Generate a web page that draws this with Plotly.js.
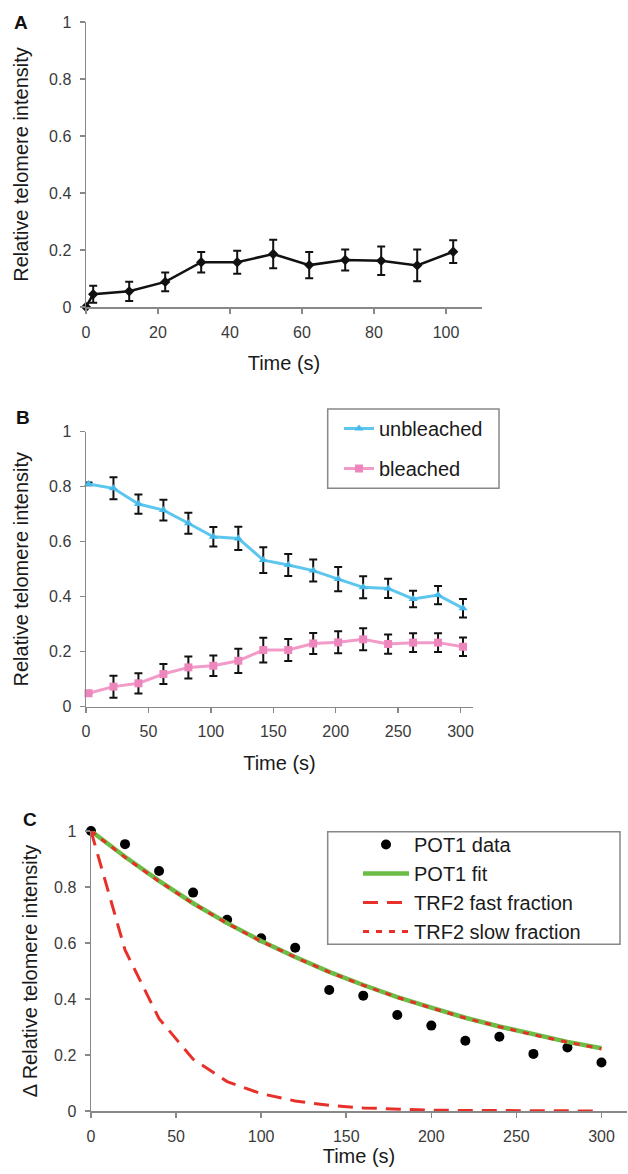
<!DOCTYPE html>
<html><head><meta charset="utf-8">
<script src="https://cdn.plot.ly/plotly-3.0.1.min.js"></script>
<style>body{margin:0;background:#fff}#chart{width:628px;height:1174px}</style>
</head><body><div id="chart"></div>
<script>
// Panel A
const timeA = [0, 2, 12, 22, 32, 42, 52, 62, 72, 82, 92, 102];
const intensityA = [0, 0.045, 0.055, 0.088, 0.157, 0.157, 0.186, 0.147, 0.165, 0.162, 0.146, 0.194];
const errorA = [0, 0.03, 0.034, 0.033, 0.036, 0.04, 0.05, 0.046, 0.037, 0.05, 0.056, 0.04];

// Panel B
const timeB = [2, 22, 42, 62, 82, 102, 122, 142, 162, 182, 202, 222, 242, 262, 282, 302];
const unbleached = [0.81, 0.794, 0.737, 0.715, 0.667, 0.618, 0.612, 0.533, 0.515, 0.495, 0.464, 0.434, 0.43, 0.392, 0.406, 0.358];
const unbleachedErr = [0.005, 0.04, 0.035, 0.038, 0.038, 0.035, 0.042, 0.047, 0.04, 0.04, 0.044, 0.04, 0.035, 0.03, 0.033, 0.034];
const bleached = [0.049, 0.073, 0.085, 0.119, 0.143, 0.149, 0.167, 0.206, 0.206, 0.23, 0.234, 0.245, 0.228, 0.233, 0.233, 0.218];
const bleachedErr = [0, 0.04, 0.037, 0.036, 0.04, 0.037, 0.044, 0.045, 0.04, 0.038, 0.04, 0.04, 0.035, 0.034, 0.034, 0.034];

// Panel C
const timeC = [0, 20, 40, 60, 80, 100, 120, 140, 160, 180, 200, 220, 240, 260, 280, 300];
const pot1Data = [1, 0.953, 0.857, 0.78, 0.683, 0.617, 0.583, 0.432, 0.412, 0.343, 0.305, 0.251, 0.265, 0.204, 0.227, 0.173];
const pot1Fit = [1, 0.908, 0.822, 0.742, 0.671, 0.607, 0.55, 0.497, 0.45, 0.407, 0.369, 0.333, 0.302, 0.273, 0.247, 0.224];
const trf2Fast = [1, 0.575, 0.33, 0.185, 0.105, 0.062, 0.036, 0.02, 0.011, 0.006, 0.003, 0.002, 0.001, 0, 0, 0];
const trf2Slow = [1, 0.906, 0.82, 0.741, 0.67, 0.606, 0.549, 0.496, 0.449, 0.406, 0.368, 0.332, 0.301, 0.272, 0.246, 0.222];

const xTicksA = [0, 20, 40, 60, 80, 100];
const xTicksBC = [0, 50, 100, 150, 200, 250, 300];
const yTicks = [0, 0.2, 0.4, 0.6, 0.8, 1];
const yTickText = ['0', '0.2', '0.4', '0.6', '0.8', '1'];

const FONT = 'Liberation Sans, Arial, Helvetica, sans-serif';
const W = 628, H = 1174;
const px = v => v / W;
const py = v => 1 - v / H;

const errStyle = (arr) => ({type: 'data', array: arr, visible: true, color: '#111', thickness: 2, width: 4});

const traces = [
  {x: timeA, y: intensityA, xaxis: 'x', yaxis: 'y', type: 'scatter', mode: 'lines+markers',
   line: {color: '#111', width: 2.5}, marker: {symbol: 'diamond', size: 8, color: '#111'},
   error_y: errStyle(errorA), showlegend: false, cliponaxis: false},
  {x: timeB, y: unbleached, xaxis: 'x2', yaxis: 'y2', type: 'scatter', mode: 'lines+markers', name: 'unbleached',
   line: {color: '#5cc6ee', width: 3}, marker: {symbol: 'triangle-up', size: 8, color: '#45b9ea'},
   error_y: errStyle(unbleachedErr), legend: 'legend', legendgroup: 'u', cliponaxis: false},
  {x: timeB, y: bleached, xaxis: 'x2', yaxis: 'y2', type: 'scatter', mode: 'lines+markers', name: 'bleached',
   line: {color: '#f29ac8', width: 3}, marker: {symbol: 'square', size: 8, color: '#ee86be'},
   error_y: errStyle(bleachedErr), legend: 'legend', legendgroup: 'b', cliponaxis: false},
  {x: timeC, y: pot1Data, xaxis: 'x3', yaxis: 'y3', type: 'scatter', mode: 'markers', name: 'POT1 data',
   marker: {symbol: 'circle', size: 10, color: '#000'}, legend: 'legend2', cliponaxis: false},
  {x: timeC, y: pot1Fit, xaxis: 'x3', yaxis: 'y3', type: 'scatter', mode: 'lines', name: 'POT1 fit',
   line: {color: '#6cbd45', width: 4.5}, legend: 'legend2', cliponaxis: false},
  {x: timeC, y: trf2Fast, xaxis: 'x3', yaxis: 'y3', type: 'scatter', mode: 'lines', name: 'TRF2 fast fraction',
   line: {color: '#e8302a', width: 3, dash: '15px,9px'}, legend: 'legend2', cliponaxis: false},
  {x: timeC, y: trf2Slow, xaxis: 'x3', yaxis: 'y3', type: 'scatter', mode: 'lines', name: 'TRF2 slow fraction',
   line: {color: '#e8302a', width: 3, dash: '6px,7px'}, legend: 'legend2', cliponaxis: false}
];

const axisBase = {
  showgrid: false, zeroline: false, showline: true, linecolor: '#888', linewidth: 1.5,
  ticks: 'outside', ticklen: 5, tickwidth: 1.5, tickcolor: '#888',
  tickfont: {family: FONT, size: 16, color: '#3a3a3a'}, fixedrange: true
};
const xAx = (domain, range, ticks, anchor, standoff) => Object.assign({}, axisBase, {
  domain, range, tickmode: 'array', tickvals: ticks, ticktext: ticks.map(String), anchor,
  ticklabelstandoff: 5,
  title: {text: 'Time (s)', font: {family: FONT, size: 20, color: '#1a1a1a'}, standoff}
});
const yAx = (domain, anchor, text, standoff) => Object.assign({}, axisBase, {
  domain, range: [0, 1], tickmode: 'array', tickvals: yTicks, ticktext: yTickText, anchor,
  ticklabelstandoff: 5,
  title: {text, font: {family: FONT, size: 20, color: '#1a1a1a'}, standoff}
});

const layout = {
  width: W, height: H, autosize: false,
  margin: {l: 0, r: 0, t: 0, b: 0},
  paper_bgcolor: '#fff', plot_bgcolor: '#fff',
  font: {family: FONT, color: '#1a1a1a'},
  xaxis: xAx([px(86), px(482)], [0, 110], xTicksA, 'y', 16),
  yaxis: yAx([py(307), py(22)], 'x', 'Relative telomere intensity', 15),
  xaxis2: xAx([px(86), px(473)], [0, 310], xTicksBC, 'y2', 16),
  yaxis2: yAx([py(706.7), py(431.7)], 'x2', 'Relative telomere intensity', 15),
  xaxis3: xAx([px(91), px(627)], [0, 315], xTicksBC, 'y3', 2),
  yaxis3: yAx([py(1111), py(831)], 'x3', 'Δ Relative telomere intensity', 11),
  legend: {x: px(339), y: py(409), xanchor: 'left', yanchor: 'top', bgcolor: 'rgba(0,0,0,0)',
    borderwidth: 0, font: {family: FONT, size: 20, color: '#1a1a1a'}, traceorder: 'grouped', tracegroupgap: 11},
  legend2: {x: px(358), y: py(825), xanchor: 'left', yanchor: 'top', bgcolor: 'rgba(0,0,0,0)', itemwidth: 46,
    borderwidth: 0, font: {family: FONT, size: 20, color: '#1a1a1a'}},
  shapes: [
    {type: 'rect', xref: 'paper', yref: 'paper', x0: px(327.7), x1: px(499), y0: py(488.3), y1: py(409),
     line: {color: '#888', width: 1.5}},
    {type: 'rect', xref: 'paper', yref: 'paper', x0: px(327.7), x1: px(620), y0: py(944.3), y1: py(831.7),
     line: {color: '#888', width: 1.5}}
  ],
  annotations: [
    {text: '<b>A</b>', xref: 'paper', yref: 'paper', x: px(20.5), y: py(22), xanchor: 'center', yanchor: 'middle', showarrow: false, font: {family: FONT, size: 19, color: '#111'}},
    {text: '<b>B</b>', xref: 'paper', yref: 'paper', x: px(23), y: py(418), xanchor: 'center', yanchor: 'middle', showarrow: false, font: {family: FONT, size: 19, color: '#111'}},
    {text: '<b>C</b>', xref: 'paper', yref: 'paper', x: px(30), y: py(819), xanchor: 'center', yanchor: 'middle', showarrow: false, font: {family: FONT, size: 19, color: '#111'}}
  ]
};

Plotly.newPlot('chart', traces, layout, {staticPlot: true, displayModeBar: false});
</script>
</body></html>
